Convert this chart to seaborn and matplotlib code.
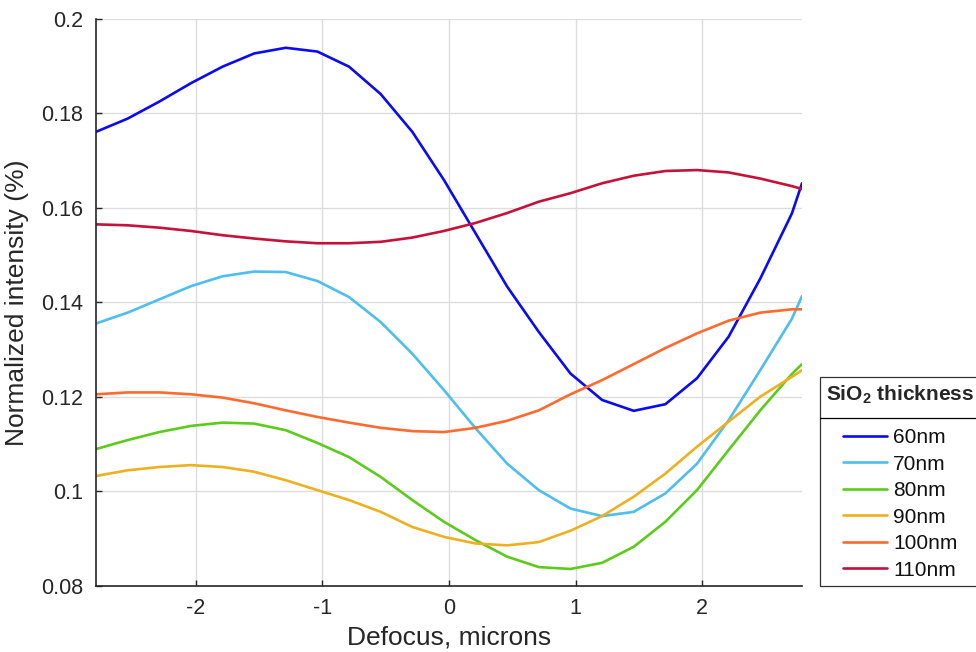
import matplotlib
matplotlib.use("Agg")
import matplotlib.pyplot as plt
import numpy as np
import pandas as pd
import seaborn as sns
from matplotlib.lines import Line2D

# ---------------- data ----------------
defocus = [-2.79, -2.54, -2.29, -2.04, -1.79, -1.54, -1.29, -1.04, -0.79, -0.54,
           -0.29, -0.04, 0.21, 0.46, 0.71, 0.96, 1.21, 1.46, 1.71, 1.96,
           2.21, 2.46, 2.71, 2.79]

nm60 = [0.1761, 0.1789, 0.1825, 0.1864, 0.1899, 0.1927, 0.1939, 0.1931, 0.1899, 0.1841,
        0.1761, 0.1659, 0.1546, 0.1433, 0.1337, 0.1249, 0.1193, 0.1170, 0.1184, 0.1239,
        0.1327, 0.1450, 0.1588, 0.1652]
nm70 = [0.1355, 0.1378, 0.1406, 0.1434, 0.1455, 0.1465, 0.1464, 0.1445, 0.1411, 0.1358,
        0.1291, 0.1214, 0.1133, 0.1058, 0.1002, 0.0963, 0.0947, 0.0956, 0.0995, 0.1058,
        0.1150, 0.1256, 0.1365, 0.1413]
nm80 = [0.1089, 0.1108, 0.1125, 0.1138, 0.1145, 0.1143, 0.1129, 0.1102, 0.1072, 0.1030,
        0.0981, 0.0935, 0.0896, 0.0861, 0.0839, 0.0835, 0.0848, 0.0882, 0.0935, 0.1002,
        0.1087, 0.1171, 0.1248, 0.1269]
nm90 = [0.1032, 0.1044, 0.1051, 0.1055, 0.1051, 0.1041, 0.1023, 0.1002, 0.0981, 0.0956,
        0.0924, 0.0903, 0.0889, 0.0885, 0.0892, 0.0916, 0.0947, 0.0988, 0.1037, 0.1094,
        0.1147, 0.1200, 0.1242, 0.1256]
nm100 = [0.1205, 0.1209, 0.1209, 0.1205, 0.1198, 0.1186, 0.1171, 0.1157, 0.1145, 0.1134,
         0.1127, 0.1125, 0.1134, 0.1149, 0.1171, 0.1205, 0.1235, 0.1269, 0.1303, 0.1334,
         0.1361, 0.1378, 0.1385, 0.1385]
nm110 = [0.1565, 0.1563, 0.1558, 0.1551, 0.1542, 0.1535, 0.1529, 0.1525, 0.1525, 0.1528,
         0.1537, 0.1551, 0.1568, 0.1589, 0.1613, 0.1631, 0.1652, 0.1668, 0.1678, 0.1680,
         0.1675, 0.1662, 0.1646, 0.1640]

labels = ["60nm", "70nm", "80nm", "90nm", "100nm", "110nm"]
colors = ["#0A0AF5", "#4DBEEE", "#5CCB1C", "#EDB120", "#FF6A2E", "#C4123A"]

x_ticks = [-2, -1, 0, 1, 2]
x_tick_labels = ["-2", "-1", "0", "1", "2"]
y_ticks = [0.08, 0.10, 0.12, 0.14, 0.16, 0.18, 0.20]
y_tick_labels = ["0.08", "0.1", "0.12", "0.14", "0.16", "0.18", "0.2"]

series = [nm60, nm70, nm80, nm90, nm100, nm110]
df = pd.DataFrame({
    "Defocus": defocus * len(labels),
    "Intensity": [v for s in series for v in s],
    "Thickness": [lab for lab in labels for _ in defocus],
})

# ---------------- style ----------------
sns.set_theme(style="white")
plt.rcParams["font.family"] = ["Liberation Sans", "DejaVu Sans"]
plt.rcParams["mathtext.fontset"] = "custom"
plt.rcParams["mathtext.rm"] = "Liberation Sans"
plt.rcParams["mathtext.bf"] = "Liberation Sans:bold"

dark = "#262626"

fig = plt.figure(figsize=(9.76, 6.52), dpi=100)
ax = fig.add_axes([96 / 976, 1 - 585.5 / 652, 706 / 976, 566.5 / 652])

sns.lineplot(data=df, x="Defocus", y="Intensity", hue="Thickness",
             hue_order=labels, palette=dict(zip(labels, colors)),
             estimator=None, sort=False, linewidth=1.9, ax=ax)

ax.set_xlim(-2.79, 2.79)
ax.set_ylim(0.08, 0.2)
ax.set_xticks(x_ticks)
ax.set_xticklabels(x_tick_labels)
ax.set_yticks(y_ticks)
ax.set_yticklabels(y_tick_labels)

ax.grid(True, color="#dddddd", linewidth=1.0)
ax.set_axisbelow(True)
for s in ["top", "right"]:
    ax.spines[s].set_visible(False)
for s in ["left", "bottom"]:
    ax.spines[s].set_color(dark)
    ax.spines[s].set_linewidth(1.2)

ax.tick_params(axis="both", direction="in", length=4, width=1.0, color=dark,
               labelcolor=dark, labelsize=15.5, pad=9, left=True, bottom=True)

ax.set_xlabel("Defocus, microns", fontsize=19, color=dark, labelpad=5)
ax.set_ylabel("Normalized intensity (%)", fontsize=19, color=dark, labelpad=9)

leg = ax.legend(title=r"SiO$_\mathbf{2}$ thickness", loc="upper left",
                bbox_to_anchor=(1.0255, 0.368), borderaxespad=0,
                fontsize=15, title_fontproperties={"weight": "bold", "size": 15},
                frameon=True, fancybox=False, edgecolor="black",
                handlelength=2.1, handletextpad=0.3, labelspacing=0.36,
                borderpad=0.3)
leg.get_frame().set_linewidth(0.9)
for t in leg.get_texts():
    t.set_color("#111111")
leg._legend_box.sep = 16

fig.add_artist(Line2D([820 / 976, 1.0], [1 - 418 / 652, 1 - 418 / 652],
                      transform=fig.transFigure, color="black", linewidth=0.9))

fig.savefig("out.png", dpi=100)
